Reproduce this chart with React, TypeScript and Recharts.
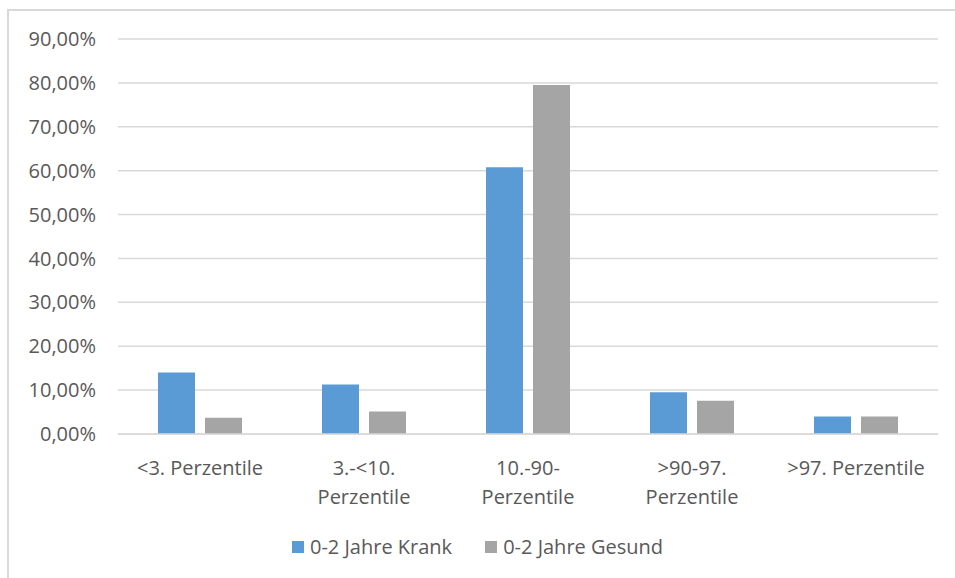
import { BarChart, Bar, XAxis, YAxis, CartesianGrid } from "recharts";

const categories = [
  "<3. Perzentile",
  "3.-<10.\nPerzentile",
  "10.-90-\nPerzentile",
  ">90-97.\nPerzentile",
  ">97. Perzentile",
];
const krank = [14.0, 11.3, 60.8, 9.5, 4.0];
const gesund = [3.7, 5.1, 79.5, 7.6, 4.0];
const yTicks = [0, 10, 20, 30, 40, 50, 60, 70, 80, 90];

const seriesNames = ["0-2 Jahre Krank", "0-2 Jahre Gesund"];
const BLUE = "#5B9BD5";
const GRAY = "#A5A5A5";
const TEXT = "#595959";
const FONT = "'Open Sans', sans-serif";
const FS = 20;

const data = categories.map((c, i) => ({ name: c, krank: krank[i], gesund: gesund[i] }));

function XTick(props: any) {
  const { x, y, payload } = props;
  const lines = String(payload.value).split("\n");
  return (
    <text x={x} y={y} textAnchor="middle" fill={TEXT} fontSize={FS} fontFamily={FONT}>
      {lines.map((l: string, i: number) => (
        <tspan key={i} x={x} dy={i === 0 ? 39 : 29}>
          {l}
        </tspan>
      ))}
    </text>
  );
}

export default function App() {
  return (
    <div style={{ position: "fixed", left: 0, top: 0, width: 955, height: 578, background: "#fff", overflow: "hidden" }}>
      <div
        style={{
          position: "absolute",
          left: 7,
          top: 9,
          width: 1000,
          height: 700,
          borderTop: "2px solid #d9d9d9",
          borderLeft: "2px solid #d9d9d9",
        }}
      />
      <div style={{ position: "absolute", left: 0, top: 0 }}>
        <BarChart
          width={955}
          height={578}
          data={data}
          margin={{ top: 39, right: 17, bottom: 44, left: 0 }}
          barGap={10}
          barSize={37}
        >
          <CartesianGrid vertical={false} stroke="#d9d9d9" strokeWidth={1.5} />
          <XAxis
            dataKey="name"
            tick={<XTick />}
            tickLine={false}
            axisLine={{ stroke: "#d9d9d9", strokeWidth: 1.5 }}
            interval={0}
            tickSize={0}
            height={100}
          />
          <YAxis
            width={118}
            domain={[0, 90]}
            ticks={yTicks}
            tickFormatter={(v: number) => v.toFixed(2).replace(".", ",") + "%"}
            tick={{ fill: TEXT, fontSize: FS, fontFamily: FONT }}
            tickLine={false}
            axisLine={false}
            tickSize={0}
            tickMargin={22}
          />
          <Bar dataKey="krank" name={seriesNames[0]} fill={BLUE} isAnimationActive={false} />
          <Bar dataKey="gesund" name={seriesNames[1]} fill={GRAY} isAnimationActive={false} />
        </BarChart>
      </div>
      <div
        style={{
          position: "absolute",
          left: 0,
          top: 533,
          width: 955,
          display: "flex",
          justifyContent: "center",
          gap: 33,
          fontFamily: FONT,
          fontSize: FS,
          color: TEXT,
        }}
      >
        {seriesNames.map((n, i) => (
          <div key={n} style={{ display: "flex", alignItems: "center", gap: 6 }}>
            <span style={{ width: 12, height: 12, background: i === 0 ? BLUE : GRAY, display: "inline-block" }} />
            <span>{n}</span>
          </div>
        ))}
      </div>
    </div>
  );
}
